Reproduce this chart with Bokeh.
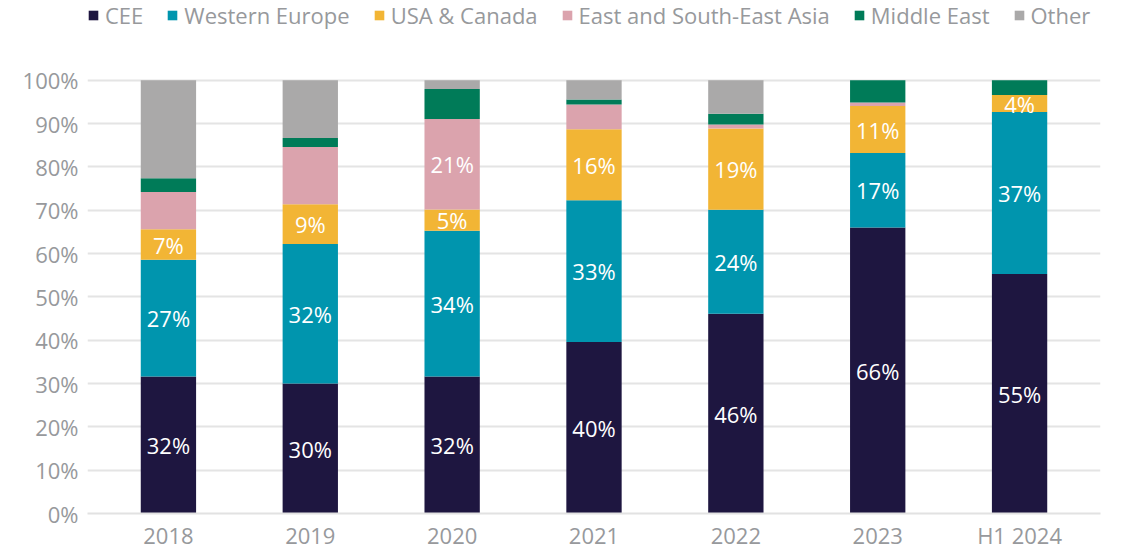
from bokeh.plotting import figure
from bokeh.models import ColumnDataSource, Legend, LegendItem, Range1d, FactorRange, PrintfTickFormatter, FixedTicker
from bokeh.embed import file_html
from bokeh.resources import INLINE
from bokeh.core.properties import value

categories = ["2018", "2019", "2020", "2021", "2022", "2023", "H1 2024"]
series_names = ["CEE", "Western Europe", "USA & Canada", "East and South-East Asia", "Middle East", "Other"]
cee = [31.6, 30.0, 31.6, 39.6, 46.1, 66.0, 55.3]
western_europe = [27.0, 32.2, 33.7, 32.7, 24.0, 17.2, 37.4]
usa_canada = [7.0, 9.2, 4.9, 16.4, 18.8, 10.9, 3.9]
east_asia = [8.6, 13.2, 20.9, 5.7, 0.9, 0.8, 0.0]
middle_east = [3.2, 2.1, 6.9, 1.2, 2.5, 5.1, 3.4]
other = [22.6, 13.3, 2.0, 4.4, 7.7, 0.0, 0.0]
# which segments carry a value label
cee_shown = [True] * 7
we_shown = [True] * 7
usa_shown = [True] * 7
ea_shown = [False, False, True, False, False, False, False]
me_shown = [False] * 7
other_shown = [False] * 7
y_ticks = [0, 10, 20, 30, 40, 50, 60, 70, 80, 90, 100]

colors = ["#1e1640", "#0095ae", "#f2b535", "#dba3ad", "#007b58", "#aaa9a9"]
keys = ["cee", "we", "usa", "ea", "me", "other"]
series = [cee, western_europe, usa_canada, east_asia, middle_east, other]
shown = [cee_shown, we_shown, usa_shown, ea_shown, me_shown, other_shown]

FONT = "Open Sans"
GRAY = "#97999c"
FS = "22px"

W, H = 1132, 552
PAD = 10  # px of extra frame on each side so the legend fits inside the frame
BL, BR, BT, BB = 97 - PAD, 42 - PAD, 0, 38
CAT_W = 993 / 7.0
# frame spans the full height so the legend can sit inside it; 100% lands 434px above the axis
Y_TOP = 100 * (H - BT - BB) / 434.0

src = ColumnDataSource(dict(cat=categories, **{k: v for k, v in zip(keys, series)}))

p = figure(x_range=FactorRange(factors=categories, range_padding=PAD / CAT_W, range_padding_units="absolute"),
           y_range=Range1d(0, Y_TOP),
           width=W, height=H, output_backend="svg", toolbar_location=None,
           min_border_left=BL, min_border_right=BR, min_border_top=BT, min_border_bottom=BB)
p.outline_line_color = None
p.background_fill_color = "white"

rs = p.vbar_stack(keys, x="cat", width=0.39, color=colors, line_color=None, source=src)

lx, ly, lt = [], [], []
for i, c in enumerate(categories):
    base = 0.0
    for s, sh in zip(series, shown):
        v = s[i]
        if sh[i]:
            lx.append(c)
            ly.append(base + v / 2)
            lt.append(f"{v:.0f}%")
        base += v
lsrc = ColumnDataSource(dict(x=lx, y=ly, t=lt))
p.text(x="x", y="y", text="t", source=lsrc, text_color="white", text_font=value(FONT),
       text_font_size=FS, text_align="center", text_baseline="middle")

legend = Legend(items=[LegendItem(label=n, renderers=[r]) for n, r in zip(series_names, rs)],
                orientation="horizontal", location="top_left")
legend.glyph_width = 12
legend.glyph_height = 12
legend.label_standoff = 6
legend.spacing = 23
legend.padding = 0
legend.margin = 0
legend.border_line_color = None
legend.background_fill_alpha = 0
legend.label_text_font = FONT
legend.label_text_font_size = FS
legend.label_text_color = GRAY
p.add_layout(legend)

p.xaxis.axis_line_color = "#e2e2e2"
p.xaxis.axis_line_width = 2
p.xaxis.major_tick_line_color = None
p.xaxis.minor_tick_line_color = None
p.xaxis.major_tick_out = 0
p.xaxis.major_label_standoff = 6
p.xaxis.major_label_text_line_height = 1.0
p.xaxis.major_label_text_font = FONT
p.xaxis.major_label_text_font_size = FS
p.xaxis.major_label_text_color = GRAY

p.yaxis.axis_line_color = None
p.yaxis.major_tick_line_color = None
p.yaxis.minor_tick_line_color = None
p.yaxis.major_tick_out = 0
p.yaxis.ticker = FixedTicker(ticks=y_ticks)
p.yaxis.formatter = PrintfTickFormatter(format="%d%%")
p.yaxis.major_label_standoff = 9
p.yaxis.major_label_text_font = FONT
p.yaxis.major_label_text_font_size = FS
p.yaxis.major_label_text_color = GRAY

p.xgrid.grid_line_color = None
p.ygrid.grid_line_color = "#e4e4e4"
p.ygrid.grid_line_width = 2

open("out.html", "w").write(file_html(p, INLINE))
